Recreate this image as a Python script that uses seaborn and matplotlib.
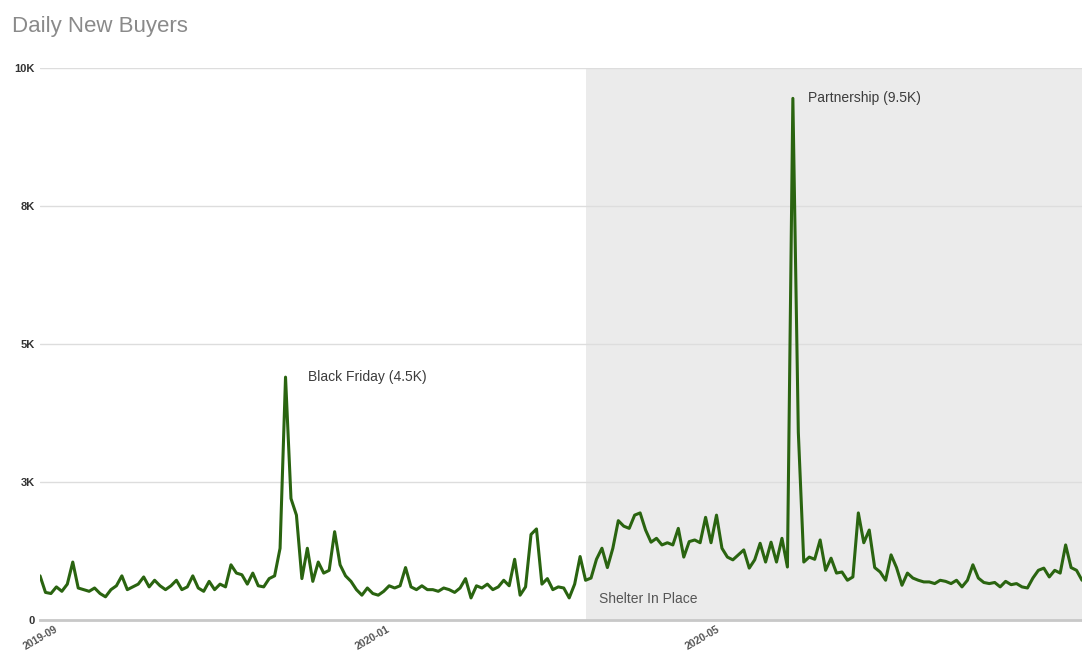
import pandas as pd
import matplotlib.pyplot as plt
import seaborn as sns

# daily new buyers, every 2 days (thousands)
start_date = "2019-09-01"
buyers_k = [
    0.80, 0.50, 0.48, 0.60, 0.52, 0.65, 1.05, 0.58, 0.55, 0.52,
    0.58, 0.48, 0.42, 0.55, 0.62, 0.80, 0.55, 0.60, 0.65, 0.78,
    0.60, 0.72, 0.62, 0.55, 0.62, 0.72, 0.55, 0.60, 0.80, 0.58,
    0.52, 0.70, 0.55, 0.65, 0.60, 1.00, 0.85, 0.82, 0.65, 0.85,
    0.62, 0.60, 0.75, 0.80, 1.30, 4.40, 2.20, 1.90, 0.75, 1.30,
    0.70, 1.05, 0.85, 0.90, 1.60, 1.00, 0.80, 0.70, 0.55, 0.45,
    0.58, 0.48, 0.45, 0.52, 0.62, 0.58, 0.62, 0.95, 0.60, 0.55,
    0.62, 0.55, 0.55, 0.52, 0.58, 0.55, 0.50, 0.58, 0.75, 0.40,
    0.62, 0.58, 0.65, 0.55, 0.60, 0.72, 0.62, 1.10, 0.45, 0.60,
    1.55, 1.65, 0.65, 0.75, 0.55, 0.60, 0.58, 0.40, 0.65, 1.15,
    0.72, 0.76, 1.10, 1.30, 0.95, 1.30, 1.80, 1.70, 1.66, 1.90,
    1.94, 1.63, 1.41, 1.48, 1.36, 1.40, 1.36, 1.66, 1.14, 1.42,
    1.45, 1.40, 1.86, 1.40, 1.90, 1.30, 1.14, 1.09, 1.18, 1.27,
    0.94, 1.09, 1.39, 1.05, 1.41, 1.05, 1.48, 0.96, 9.45, 3.40,
    1.05, 1.14, 1.10, 1.45, 0.90, 1.12, 0.85, 0.87, 0.72, 0.78,
    1.94, 1.40, 1.63, 0.95, 0.87, 0.72, 1.18, 0.95, 0.63, 0.85,
    0.76, 0.72, 0.69, 0.69, 0.66, 0.72, 0.70, 0.66, 0.72, 0.60,
    0.72, 1.00, 0.76, 0.68, 0.66, 0.68, 0.60, 0.70, 0.64, 0.66,
    0.60, 0.58, 0.76, 0.90, 0.94, 0.78, 0.90, 0.85, 1.36, 0.95,
    0.90, 0.72,
]
shelter_start = "2020-03-19"

y_ticks = [0, 2500, 5000, 7500, 10000]
y_labels = ["0", "3K", "5K", "8K", "10K"]
x_ticks = ["2019-09-01", "2020-01-01", "2020-05-01"]
x_labels = ["2019-09", "2020-01", "2020-05"]

df = pd.DataFrame({
    "date": pd.date_range(start_date, periods=len(buyers_k), freq="2D"),
    "buyers": [v * 1000 for v in buyers_k],
})

sns.set_style("white")
plt.rcParams['font.family'] = ['Liberation Sans', 'DejaVu Sans']

fig = plt.figure(figsize=(10.82, 6.57), dpi=100)
ax = fig.add_axes([0.037, 0.0563, 0.963, 0.8402])

# shelter in place shading
ax.axvspan(pd.Timestamp(shelter_start), df["date"].iloc[-1], color="#ebebeb", zorder=0, lw=0)

sns.lineplot(data=df, x="date", y="buyers", color="#2a6410", linewidth=2.2, ax=ax, zorder=3)

ax.set_xlim(df["date"].iloc[0], df["date"].iloc[-1])
ax.set_ylim(0, 10000)
ax.set_yticks(y_ticks)
ax.set_yticklabels(y_labels, fontsize=8, fontweight="bold", color="#333333")
ax.set_xticks([pd.Timestamp(d) for d in x_ticks])
ax.set_xticklabels(x_labels, fontsize=7.5, fontweight="bold", color="#555555", rotation=30,
                   ha="center")
ax.tick_params(axis="x", length=0, pad=3)
ax.tick_params(axis="y", length=0, pad=4)
ax.grid(True, axis="y", color="#dddddd", lw=1)
ax.set_axisbelow(True)
ax.set_xlabel("")
ax.set_ylabel("")
for side in ["top", "right", "left"]:
    ax.spines[side].set_visible(False)
ax.spines["bottom"].set_color("#c8c8c8")
ax.spines["bottom"].set_linewidth(2)
ax.spines["bottom"].set_zorder(4)

# annotations
peak_bf = df.loc[df["buyers"].iloc[:100].idxmax()]
peak_p = df.loc[df["buyers"].idxmax()]
ax.annotate("Black Friday (4.5K)", xy=(peak_bf["date"], peak_bf["buyers"]),
            xytext=(16, 0), textcoords="offset points", fontsize=10, color="#3c3c3c",
            va="center")
ax.annotate("Partnership (9.5K)", xy=(peak_p["date"], peak_p["buyers"]),
            xytext=(11, 0), textcoords="offset points", fontsize=10, color="#3c3c3c",
            va="center")
ax.annotate("Shelter In Place", xy=(pd.Timestamp(shelter_start), 0),
            xytext=(10, 15), textcoords="offset points", fontsize=10, color="#555555",
            va="center")

fig.text(0.011, 0.960, "Daily New Buyers", fontsize=16, color="#8a8a8a", va="center")

fig.savefig("out.png", dpi=100)
